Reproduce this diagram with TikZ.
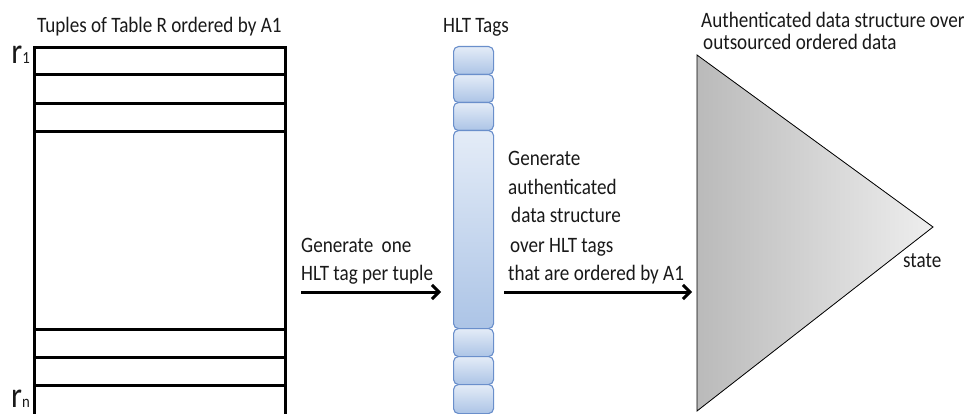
\documentclass[tikz,border=0pt]{standalone}
\usepackage{fontspec}
\setmainfont{Carlito}[FakeStretch=0.87]
\usetikzlibrary{arrows.meta}
\definecolor{tagedge}{RGB}{106,143,203}
\definecolor{tagtop}{RGB}{228,236,247}
\definecolor{tagbot}{RGB}{172,196,230}
\definecolor{tritleft}{RGB}{186,186,186}
\definecolor{tritright}{RGB}{238,238,238}
\definecolor{ink}{RGB}{25,25,25}
\tikzset{
  x=1pt, y=-1pt,
  lbl/.style={font=\fontsize{22}{26}\selectfont, text=ink, inner sep=0pt, anchor=base west},
  rowlbl/.style={inner sep=0pt, text depth=0pt, anchor=base east, text=ink},
  tuplerow/.style={draw=black, line width=3.2pt, minimum width=251pt, inner sep=0pt, anchor=north west},
  tagbox/.style={draw=tagedge, line width=1.1pt, rounded corners=5pt, top color=tagtop, bottom color=tagbot,
                 minimum width=40pt, inner sep=0pt, anchor=north west},
  flow/.style={line width=3pt, -{Straight Barb[length=7pt,width=14pt,line width=3pt]}},
}
\begin{document}
\begin{tikzpicture}
\useasboundingbox (0,0) rectangle (972,414);

% table of tuples
\node[lbl] (ttitle) at (37,33) {Tuples of Table R ordered by A1};
\node[tuplerow, minimum height=27pt]  (t1) at (33,46)  {};
\node[tuplerow, minimum height=29pt]  (t2) at (33,73)  {};
\node[tuplerow, minimum height=28pt]  (t3) at (33,102) {};
\node[tuplerow, minimum height=198pt] (t4) at (33,130) {};
\node[tuplerow, minimum height=28pt]  (t5) at (33,328) {};
\node[tuplerow, minimum height=28pt]  (t6) at (33,356) {};
\node[tuplerow, minimum height=31pt]  (t7) at (33,384) {};
\node[rowlbl] (r1) at (30,64)
  {\fontsize{36}{36}\selectfont r\fontsize{17}{17}\selectfont 1};
\node[rowlbl] (rn) at (30,407)
  {\fontsize{36}{36}\selectfont r\fontsize{17}{17}\selectfont n};

% HLT tags
\node[lbl] (htitle) at (443,33) {HLT Tags};
\node[tagbox, minimum height=28pt]  (h1) at (453,46)  {};
\node[tagbox, minimum height=28pt]  (h2) at (453,74)  {};
\node[tagbox, minimum height=28pt]  (h3) at (453,102) {};
\node[tagbox, minimum height=198pt] (h4) at (453,130) {};
\node[tagbox, minimum height=28pt]  (h5) at (453,328) {};
\node[tagbox, minimum height=28pt]  (h6) at (453,356) {};
\node[tagbox, minimum height=29pt]  (h7) at (453,384) {};

% authenticated data structure
\coordinate (tA) at (697,55);
\coordinate (tB) at (933,227);
\coordinate (tC) at (697,411);
\filldraw[draw=black, line width=0.8pt, left color=tritleft, right color=tritright]
  (tA) -- (tB) -- (tC) -- cycle;
\node[lbl] (ads1) at (701,28) {Authenticated data structure over};
\node[lbl] (ads2) at (703,50) {outsourced ordered data};
\node[lbl] (state) at (903,267) {state};

% step labels
\node[lbl] (g1) at (301,252) {Generate\hspace{4pt} one};
\node[lbl] (g2) at (301,280) {HLT tag per tuple};
\node[lbl] (s1) at (508,166) {Generate};
\node[lbl] (s2) at (508,195) {authenticated};
\node[lbl] (s3) at (511,223) {data structure};
\node[lbl] (s4) at (510,252) {over HLT tags};
\node[lbl] (s5) at (508,280) {that are ordered by A1};

% arrows
\coordinate (a1s) at (301,292);
\coordinate (a1e) at (441,292);
\coordinate (a2s) at (504,292);
\coordinate (a2e) at (692,292);
\draw[flow] (a1s) -- (a1e);
\draw[flow] (a2s) -- (a2e);
\end{tikzpicture}
\end{document}
